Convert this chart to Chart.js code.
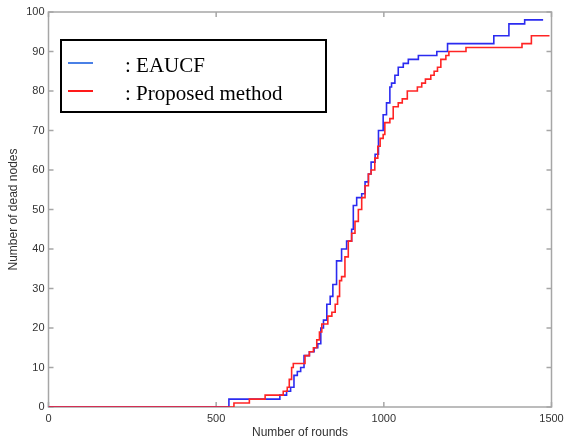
<!DOCTYPE html>
<html>
<head>
<meta charset="utf-8">
<script src="https://cdn.jsdelivr.net/npm/chart.js@4/dist/chart.umd.min.js"></script>
<style>
  html, body { margin: 0; padding: 0; background: #fff; }
</style>
</head>
<body>
<canvas id="grafico" width="565" height="440"></canvas>
<script>
// valores (rodada em que o número de nós mortos muda)
const eaucfRounds = [0, 538, 690, 710, 722, 732, 742, 752, 762, 778, 792, 803, 812, 820, 830, 840, 848, 859, 874, 889, 904, 909, 919, 934, 944, 954, 962, 974, 984, 998, 1008, 1018, 1023, 1033, 1043, 1058, 1073, 1103, 1158, 1190, 1328, 1373, 1420, 1475];
const eaucfDead   = [0, 2, 3, 4, 5, 8, 9, 10, 13, 14, 15, 16, 20, 22, 26, 28, 31, 37, 40, 42, 45, 51, 53, 54, 57, 59, 62, 64, 70, 74, 77, 81, 82, 84, 86, 87, 88, 89, 90, 92, 94, 97, 98, 98];

const propRounds = [0, 553, 599, 646, 700, 712, 718, 725, 730, 765, 778, 790, 800, 808, 815, 833, 845, 855, 862, 868, 874, 884, 894, 904, 914, 924, 934, 944, 954, 962, 973, 982, 989, 998, 1003, 1018, 1028, 1043, 1055, 1070, 1100, 1113, 1124, 1140, 1150, 1160, 1170, 1185, 1194, 1245, 1412, 1440, 1494];
const propDead   = [0, 1, 2, 3, 4, 5, 7, 10, 11, 13, 14, 15, 17, 19, 21, 23, 24, 26, 28, 32, 33, 38, 42, 44, 47, 50, 53, 56, 59, 60, 63, 66, 68, 69, 72, 73, 76, 77, 78, 80, 81, 82, 83, 84, 85, 86, 88, 89, 90, 91, 92, 94, 94];

const seriesNames = ["EAUCF", "Proposed method"];
const xTickStep = 500;
const yTickStep = 10;

function pontos(rounds, dead) {
    return rounds.map((r, i) => ({ x: r, y: dead[i] }));
}

// moldura cinza com marcas de escala para dentro
const moldura = {
    id: "moldura",
    beforeDatasetsDraw(chart) {
        const { ctx, chartArea: a, scales: { x, y } } = chart;
        ctx.save();
        ctx.strokeStyle = "#a6a6a6";
        ctx.lineWidth = 1.5;
        ctx.strokeRect(a.left, a.top, a.right - a.left, a.bottom - a.top);
        ctx.beginPath();
        x.ticks.forEach(t => {
            const px = x.getPixelForValue(t.value);
            ctx.moveTo(px, a.bottom); ctx.lineTo(px, a.bottom - 5);
            ctx.moveTo(px, a.top); ctx.lineTo(px, a.top + 5);
        });
        y.ticks.forEach(t => {
            const py = y.getPixelForValue(t.value);
            ctx.moveTo(a.left, py); ctx.lineTo(a.left + 5, py);
            ctx.moveTo(a.right, py); ctx.lineTo(a.right - 5, py);
        });
        ctx.stroke();
        ctx.restore();
    }
};

// legenda em caixa, como na figura
const legendaCaixa = {
    id: "legendaCaixa",
    afterDraw(chart) {
        const ctx = chart.ctx;
        const cores = ["#4a80e6", "#ff1a1a"];
        ctx.save();
        ctx.fillStyle = "#fff";
        ctx.fillRect(61, 40, 265, 72);
        ctx.strokeStyle = "#000";
        ctx.lineWidth = 2;
        ctx.strokeRect(61, 40, 265, 72);
        ctx.font = "21px 'Liberation Serif', 'Times New Roman', serif";
        ctx.textBaseline = "alphabetic";
        ctx.fillStyle = "#000";
        chart.data.datasets.forEach((ds, i) => {
            const yLinha = 63 + i * 28;
            ctx.strokeStyle = cores[i];
            ctx.lineWidth = 2;
            ctx.beginPath();
            ctx.moveTo(68, yLinha);
            ctx.lineTo(93, yLinha);
            ctx.stroke();
            ctx.fillText(": " + ds.label, 125, 72 + i * 28);
        });
        ctx.restore();
    }
};

const fonteEixo = { family: "Arial, 'Liberation Sans', sans-serif", size: 11 };
const fonteTitulo = { family: "Arial, 'Liberation Sans', sans-serif", size: 12 };

new Chart(document.getElementById("grafico"), {
    type: "line",
    data: {
        datasets: [{
            label: seriesNames[0],
            data: pontos(eaucfRounds, eaucfDead),
            borderColor: "#2b2bf0",
            borderWidth: 1.6,
            stepped: true,
            pointRadius: 0,
            order: 1
        }, {
            label: seriesNames[1],
            data: pontos(propRounds, propDead),
            borderColor: "#ff2424",
            borderWidth: 1.6,
            stepped: true,
            pointRadius: 0,
            order: 0
        }]
    },
    options: {
        responsive: false,
        animation: false,
        devicePixelRatio: 1,
        layout: { padding: { top: 12, right: 13.5, left: 0, bottom: 0 } },
        plugins: { legend: { display: false }, tooltip: { enabled: false } },
        scales: {
            x: {
                type: "linear",
                min: 0, max: 1500,
                grid: { display: false, drawTicks: false },
                border: { display: false },
                ticks: { stepSize: xTickStep, autoSkip: false, maxRotation: 0, padding: 5,
                         color: "#333", font: fonteEixo,
                         callback: v => String(v) },
                title: { display: true, text: "Number of rounds", color: "#333",
                         padding: { top: 0, bottom: 0.5 }, font: fonteTitulo },
                afterFit(scale) {
                    scale.height = 33;
                    scale.paddingLeft = 0;
                    scale.paddingRight = 0;
                }
            },
            y: {
                min: 0, max: 100,
                grid: { display: false, drawTicks: false },
                border: { display: false },
                ticks: { stepSize: yTickStep, padding: 4,
                         color: "#333", font: fonteEixo,
                         callback: v => String(v) },
                title: { display: true, text: "Number of dead nodes", color: "#333",
                         padding: { top: 6.3, bottom: 0 }, font: fonteTitulo },
                afterFit(scale) {
                    scale.width = 48.5;
                    scale.paddingTop = 0;
                    scale.paddingBottom = 0;
                }
            }
        }
    },
    plugins: [moldura, legendaCaixa]
});
</script>
</body>
</html>
